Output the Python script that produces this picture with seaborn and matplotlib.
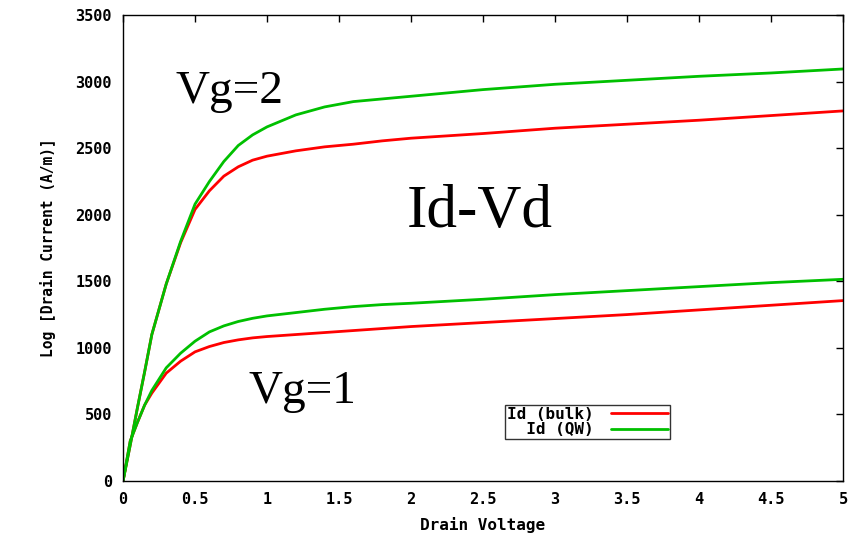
import matplotlib
matplotlib.use("Agg")
import matplotlib.pyplot as plt
import seaborn as sns
import pandas as pd

vd = [0, 0.05, 0.1, 0.15, 0.2, 0.3, 0.4, 0.5, 0.6, 0.7, 0.8, 0.9, 1.0,
      1.2, 1.4, 1.6, 1.8, 2.0, 2.5, 3.0, 3.5, 4.0, 4.5, 5.0]
vg2_qw = [0, 270, 550, 820, 1100, 1480, 1800, 2080, 2250, 2400, 2520, 2600, 2660,
          2750, 2810, 2850, 2870, 2890, 2940, 2980, 3010, 3040, 3065, 3095]
vg2_bulk = [0, 270, 550, 820, 1100, 1480, 1790, 2040, 2180, 2290, 2360, 2410, 2440,
            2480, 2510, 2530, 2555, 2575, 2610, 2650, 2680, 2710, 2745, 2780]
vg1_qw = [0, 300, 440, 570, 680, 850, 960, 1050, 1120, 1165, 1198, 1222, 1240,
          1265, 1290, 1310, 1325, 1335, 1365, 1400, 1430, 1460, 1490, 1515]
vg1_bulk = [0, 300, 440, 570, 660, 810, 900, 970, 1010, 1040, 1060, 1075, 1085,
            1100, 1115, 1130, 1145, 1160, 1190, 1220, 1250, 1285, 1320, 1355]

xticks = [0, 0.5, 1, 1.5, 2, 2.5, 3, 3.5, 4, 4.5, 5]
xticklabels = ["0", "0.5", "1", "1.5", "2", "2.5", "3", "3.5", "4", "4.5", "5"]
yticks = [0, 500, 1000, 1500, 2000, 2500, 3000, 3500]
legend_labels = ["Id (bulk)", "  Id (QW)"]

sns.set_style("white")
plt.rcParams.update({"text.color": "black", "axes.labelcolor": "black",
                     "xtick.color": "black", "ytick.color": "black"})
mono = ["DejaVu Sans Mono"]

fig = plt.figure(figsize=(8.61, 5.38), dpi=100)
ax = fig.add_axes([0.1429, 0.106, 0.8362, 0.866])

red = "#ff0000"
green = "#00c000"

df = pd.DataFrame({"vd": vd, "b2": vg2_bulk, "q2": vg2_qw, "b1": vg1_bulk, "q1": vg1_qw})
sns.lineplot(data=df, x="vd", y="b2", ax=ax, color=red, lw=2, label=legend_labels[0])
sns.lineplot(data=df, x="vd", y="b1", ax=ax, color=red, lw=2, label="_nolegend_")
sns.lineplot(data=df, x="vd", y="q2", ax=ax, color=green, lw=2, label=legend_labels[1])
sns.lineplot(data=df, x="vd", y="q1", ax=ax, color=green, lw=2, label="_nolegend_")

ax.set_xlim(0, 5)
ax.set_ylim(0, 3500)
ax.set_xticks(xticks)
ax.set_xticklabels(xticklabels)
ax.set_yticks(yticks)
ax.tick_params(direction="in", length=5, width=1, top=True, right=True,
               labelsize=11, colors="black", pad=8)
for lab in ax.get_xticklabels() + ax.get_yticklabels():
    lab.set_family(mono)
    lab.set_weight("bold")
for s in ax.spines.values():
    s.set_color("black")
    s.set_linewidth(1)

ax.set_xlabel("Drain Voltage", family=mono, weight="bold", fontsize=11.5, labelpad=7)
ax.set_ylabel("Log [Drain Current (A/m)]", family=mono, weight="bold", fontsize=10.5, labelpad=14)

serif = ["Liberation Serif"]
ax.text(0.736, 2839, "Vg=2", family=serif, fontsize=34, ha="center", va="baseline")
ax.text(2.48, 1908, "Id-Vd", family=serif, fontsize=44, ha="center", va="baseline")
ax.text(1.245, 586, "Vg=1", family=serif, fontsize=34, ha="center", va="baseline")

leg = ax.legend(loc="upper left", bbox_to_anchor=(0.5306, 0.163), markerfirst=False,
                frameon=True, fancybox=False, prop={"family": mono, "weight": "bold", "size": 11.5},
                handlelength=3.6, borderpad=0.1, labelspacing=0.05, handletextpad=1.1,
                borderaxespad=0)
leg.get_frame().set_edgecolor("black")
leg.get_frame().set_linewidth(1)

fig.savefig("out.png", dpi=100)
